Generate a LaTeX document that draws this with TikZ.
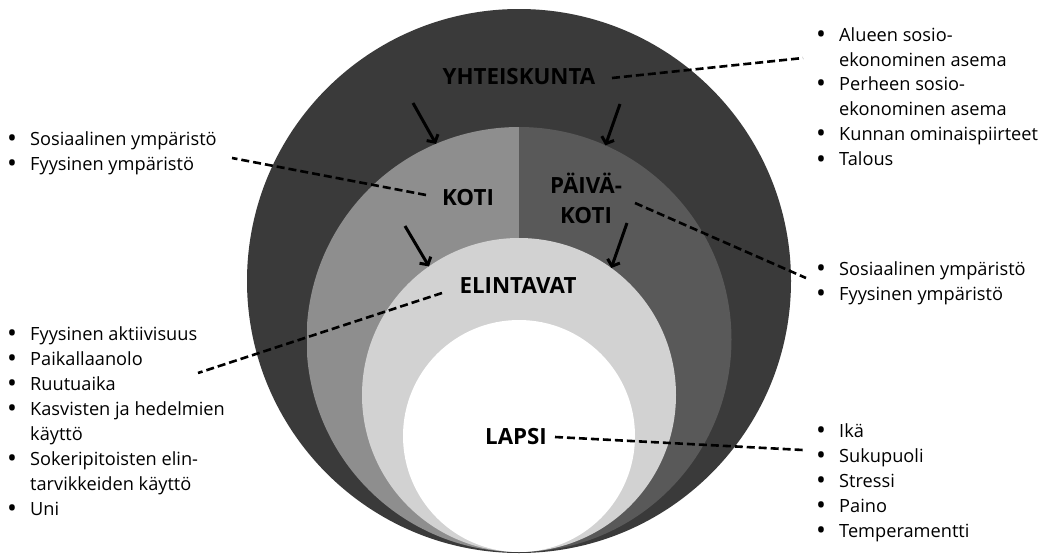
\documentclass[tikz,border=0pt]{standalone}
\usepackage{fontspec}
\setmainfont{Open Sans}
\usetikzlibrary{arrows.meta}
\definecolor{yhtc}{HTML}{3A3A3A}
\definecolor{kotic}{HTML}{8E8E8E}
\definecolor{paivac}{HTML}{595959}
\definecolor{elic}{HTML}{D2D2D2}
\newcommand\bul{\makebox[18pt]{\raisebox{-2pt}{\scalebox{1.45}{\textbullet}}}\hspace{9pt}}
\newcommand\nob{\hspace{27pt}}
\tikzset{
  ring/.style={circle, inner sep=0pt, outer sep=0pt},
  lab/.style={font=\bfseries\fontsize{22.3}{30}\selectfont, inner sep=0pt, align=center},
  lst/.style={anchor=base west, inner sep=0pt, font=\fontsize{18.2}{25}\selectfont},
  dashline/.style={line width=2.6pt, dash pattern=on 8pt off 4pt},
  arr/.style={line width=3pt, -{Straight Barb[length=5.5pt,width=13pt]}}
}
\begin{document}
\begin{tikzpicture}[x=1pt,y=-1pt]
\useasboundingbox (0,0) rectangle (1053,554);
\fill[white] (0,0) rectangle (1053,554);
% circles
\node[ring, fill=yhtc, minimum size=544pt] (yht) at (519,281) {};
\node[ring, minimum size=425pt, path picture={
  \fill[kotic] (path picture bounding box.north west) rectangle (path picture bounding box.south);
  \fill[paivac] (path picture bounding box.north) rectangle (path picture bounding box.south east);}] (mid) at (519,339.5) {};
\node[ring, fill=elic, minimum size=314pt] (eli) at (519,395) {};
\node[ring, fill=white, minimum size=232pt] (lap) at (519,436) {};
% labels
\node[lab] (tyht) at (519,77) {YHTEISKUNTA};
\node[lab] (tkoti) at (468,198) {KOTI};
\node[lab] (tpk) at (586,198) {PÄIVÄ-\\KOTI};
\node[lab] (teli) at (518,286) {ELINTAVAT};
\node[lab] (tlap) at (516,437) {LAPSI};
% lists
\node[lst] (l1) at (3,145) {\begin{tabular}[t]{@{}l@{}}
\bul Sosiaalinen ympäristö\\
\bul Fyysinen ympäristö
\end{tabular}};
\node[lst] (l2) at (812,41) {\begin{tabular}[t]{@{}l@{}}
\bul Alueen sosio-\\
\nob ekonominen asema\\
\bul Perheen sosio-\\
\nob ekonominen asema\\
\bul Kunnan ominaispiirteet\\
\bul Talous
\end{tabular}};
\node[lst] (l3) at (812,275) {\begin{tabular}[t]{@{}l@{}}
\bul Sosiaalinen ympäristö\\
\bul Fyysinen ympäristö
\end{tabular}};
\node[lst] (l4) at (3,340) {\begin{tabular}[t]{@{}l@{}}
\bul Fyysinen aktiivisuus\\
\bul Paikallaanolo\\
\bul Ruutuaika\\
\bul Kasvisten ja hedelmien\\
\nob käyttö\\
\bul Sokeripitoisten elin-\\
\nob tarvikkeiden käyttö\\
\bul Uni
\end{tabular}};
\node[lst] (l5) at (812,437.5) {\begin{tabular}[t]{@{}l@{}}
\bul Ikä\\
\bul Sukupuoli\\
\bul Stressi\\
\bul Paino\\
\bul Temperamentti
\end{tabular}};
% dashed connector ends
\coordinate (d1a) at (612,78);  \coordinate (d1b) at (803,58);
\coordinate (d2a) at (426,195); \coordinate (d2b) at (232,158);
\coordinate (d3a) at (635,203); \coordinate (d3b) at (806,278);
\coordinate (d4a) at (442,293); \coordinate (d4b) at (198,373);
\coordinate (d5a) at (555,437); \coordinate (d5b) at (803,450);
\draw[dashline] (d1a) -- (d1b);
\draw[dashline] (d2a) -- (d2b);
\draw[dashline] (d3a) -- (d3b);
\draw[dashline] (d4a) -- (d4b);
\draw[dashline] (d5a) -- (d5b);
% arrows
\coordinate (a1) at (413,103);
\coordinate (a2) at (620,104);
\coordinate (a3) at (405,226);
\coordinate (a4) at (627,223);
\draw[arr] (a1) -- (mid.113);
\draw[arr] (a2) -- (mid.66);
\draw[arr] (a3) -- (eli.125);
\draw[arr] (a4) -- (eli.54);
\end{tikzpicture}
\end{document}
